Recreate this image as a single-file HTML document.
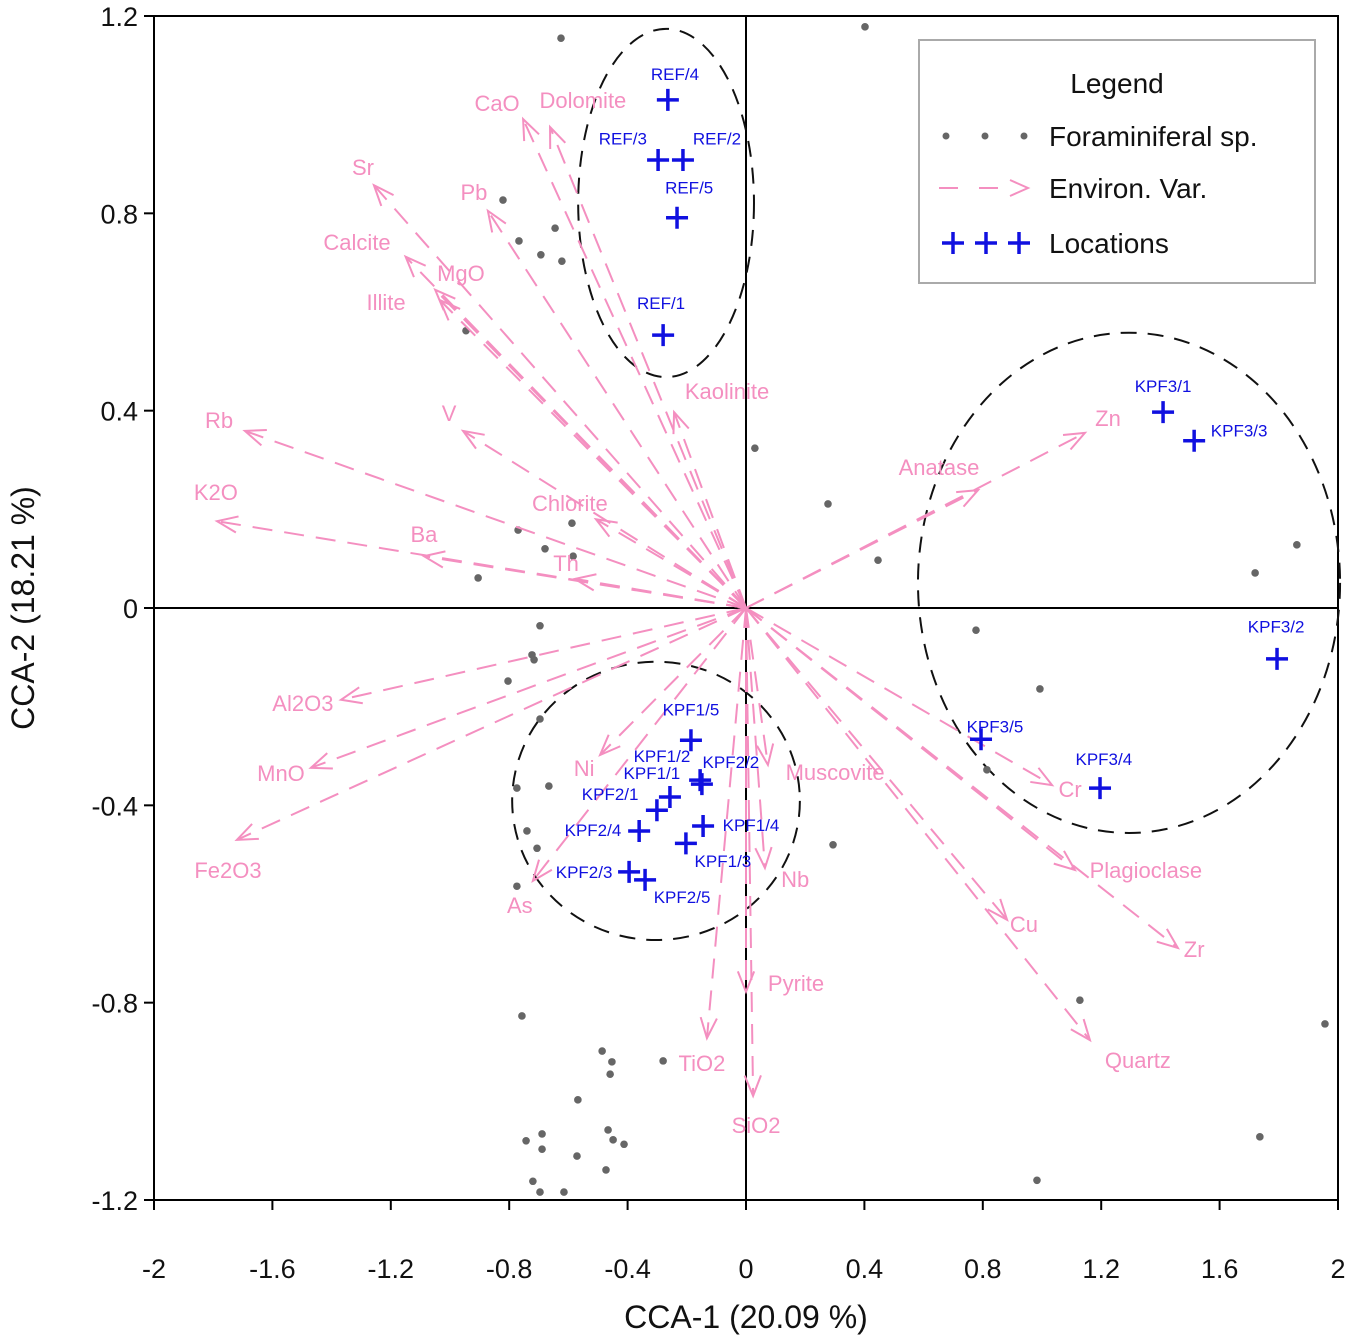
<!DOCTYPE html>
<html><head><meta charset="utf-8"><style>
html,body{margin:0;padding:0;background:#fff;}
svg{display:block;font-family:"Liberation Sans",sans-serif;}
</style></head><body>
<svg id="chart" width="1350" height="1340" viewBox="0 0 1350 1340">
<g id="grid-layer"></g>
<g id="ellipse-layer"></g>
<g id="point-layer"></g>
<g id="arrow-layer"></g>
<g id="loc-layer"></g>
<g id="legend">
<rect x="919" y="40" width="396" height="243" fill="#fff" stroke="#aaa" stroke-width="2"/>
<text x="1117" y="93" font-size="28" text-anchor="middle" fill="#111">Legend</text>
<g>
<circle cx="946" cy="136" r="3.5" fill="#666"/><circle cx="985" cy="136" r="3.5" fill="#666"/><circle cx="1024" cy="136" r="3.5" fill="#666"/>
<text x="1049" y="146" font-size="28" fill="#111">Foraminiferal sp.</text></g>
<g>
<line x1="939" y1="188" x2="958" y2="188" stroke="#f48fc0" stroke-width="2"/><line x1="979" y1="188" x2="998" y2="188" stroke="#f48fc0" stroke-width="2"/>
<polyline points="1010,180 1028,188 1010,196" fill="none" stroke="#f48fc0" stroke-width="2"/>
<text x="1049" y="198" font-size="28" fill="#111">Environ. Var.</text></g>
<g>
<path d="M942 243h22M953 232v22M975 243h22M986 232v22M1008 243h22M1019 232v22" stroke="#1010e0" stroke-width="3.5"/>
<text x="1049" y="253" font-size="28" fill="#111">Locations</text></g>
</g>
</svg>
<script>
const xTicks = [-2,-1.6,-1.2,-0.8,-0.4,0,0.4,0.8,1.2,1.6,2];
const yTicks = [1.2,0.8,0.4,0,-0.4,-0.8,-1.2];
const xTickLabels = ["-2","-1.6","-1.2","-0.8","-0.4","0","0.4","0.8","1.2","1.6","2"];
const yTickLabels = ["1.2","0.8","0.4","0","-0.4","-0.8","-1.2"];

const varNames = ["CaO","Dolomite","Sr","Pb","Calcite","MgO","Illite","Kaolinite","V","Rb","K2O","Ba","Chlorite","Th","Al2O3","MnO","Fe2O3","Ni","As","TiO2","SiO2","Pyrite","Zn","Anatase","Muscovite","Nb","Cr","Plagioclase","Cu","Zr","Quartz"];
const varX = [-0.753,-0.662,-1.257,-0.872,-1.15,-1.05,-1.034,-0.243,-0.956,-1.693,-1.787,-1.088,-0.507,-0.578,-1.368,-1.47,-1.72,-0.493,-0.72,-0.132,0.024,0,1.145,0.784,0.074,0.064,1.034,1.111,0.882,1.459,1.162];
const varY = [0.991,0.975,0.857,0.805,0.712,0.645,0.624,0.397,0.359,0.359,0.176,0.105,0.18,0.059,-0.186,-0.324,-0.47,-0.298,-0.553,-0.872,-0.989,-0.778,0.355,0.239,-0.318,-0.527,-0.359,-0.531,-0.632,-0.689,-0.876];
const varLabelX = [-0.841,-0.551,-1.294,-0.919,-1.314,-0.963,-1.216,-0.064,-1.003,-1.78,-1.791,-1.088,-0.595,-0.608,-1.497,-1.571,-1.75,-0.547,-0.764,-0.149,0.034,0.169,1.223,0.652,0.301,0.166,1.095,1.351,0.939,1.514,1.324];
const varLabelY = [1.024,1.03,0.894,0.843,0.742,0.679,0.62,0.44,0.395,0.381,0.235,0.15,0.213,0.091,-0.193,-0.334,-0.531,-0.324,-0.602,-0.922,-1.048,-0.76,0.385,0.286,-0.332,-0.549,-0.367,-0.531,-0.641,-0.691,-0.916];

const locNames = ["REF/4","REF/3","REF/2","REF/5","REF/1","KPF3/1","KPF3/3","KPF3/2","KPF3/5","KPF3/4","KPF1/5","KPF1/2","KPF2/2","KPF1/1","KPF2/1","KPF2/4","KPF1/4","KPF1/3","KPF2/3","KPF2/5"];
const locX = [-0.264,-0.297,-0.213,-0.233,-0.28,1.409,1.514,1.794,0.794,1.196,-0.186,-0.155,-0.149,-0.257,-0.301,-0.361,-0.145,-0.203,-0.395,-0.341];
const locY = [1.03,0.908,0.908,0.791,0.553,0.397,0.339,-0.103,-0.266,-0.365,-0.268,-0.349,-0.357,-0.383,-0.41,-0.452,-0.442,-0.477,-0.535,-0.551];
const locLabelX = [-0.24,-0.416,-0.098,-0.192,-0.287,1.409,1.666,1.791,0.841,1.209,-0.186,-0.284,-0.051,-0.318,-0.459,-0.517,0.017,-0.078,-0.547,-0.216];
const locLabelY = [1.082,0.952,0.952,0.852,0.618,0.45,0.36,-0.038,-0.24,-0.306,-0.206,-0.3,-0.312,-0.334,-0.377,-0.45,-0.44,-0.513,-0.535,-0.586];

const forX = [-0.625,0.402,-0.821,-0.767,-0.693,-0.645,-0.622,-0.946,0.03,0.277,0.446,1.72,1.861,-0.77,-0.588,-0.679,-0.584,-0.905,-0.696,-0.723,-0.716,-0.804,-0.696,0.777,0.993,0.814,-0.774,-0.666,-0.74,-0.706,-0.774,0.294,-0.757,-0.28,-0.486,-0.453,-0.459,-0.568,-0.743,-0.689,-0.689,-0.571,-0.466,-0.412,-0.449,-0.473,-0.72,-0.696,-0.615,1.128,1.956,1.736,0.983];
const forY = [1.155,1.178,0.827,0.744,0.716,0.77,0.703,0.562,0.324,0.211,0.097,0.071,0.128,0.158,0.172,0.12,0.105,0.061,-0.036,-0.095,-0.105,-0.148,-0.225,-0.045,-0.164,-0.328,-0.365,-0.361,-0.452,-0.487,-0.564,-0.48,-0.827,-0.918,-0.898,-0.92,-0.945,-0.997,-1.08,-1.066,-1.097,-1.111,-1.058,-1.087,-1.078,-1.139,-1.162,-1.184,-1.184,-0.795,-0.843,-1.072,-1.16];

const ellCX = [-0.27,1.294,-0.304];
const ellCY = [0.821,0.051,-0.391];
const ellRX = [0.297,0.713,0.486];
const ellRY = [0.353,0.507,0.282];
const ellNames = ["ref-cluster-ellipse","kpf3-cluster-ellipse","kpf1-kpf2-cluster-ellipse"];

const X0=154,X1=1338,Y0=16,Y1=1200;
function sx(v){return X0+(v+2)/4*(X1-X0);}
function sy(v){return Y1-(v+1.2)/2.4*(Y1-Y0);}
const NS="http://www.w3.org/2000/svg";
function mk(tag,attrs,parent,txt){const e=document.createElementNS(NS,tag);for(const k in attrs)e.setAttribute(k,attrs[k]);if(txt!==undefined)e.textContent=txt;parent.appendChild(e);return e;}
const PINK="#f48fc0",BLUE="#1010e0";

const ax=document.getElementById('grid-layer');
const frame=mk('rect',{x:X0,y:Y0,width:X1-X0,height:Y1-Y0,fill:'none',stroke:'#000','stroke-width':2},ax);


const zx=mk('line',{x1:X0,x2:X1,y1:sy(0),y2:sy(0),stroke:'#000','stroke-width':2},ax);


const zy=mk('line',{x1:sx(0),x2:sx(0),y1:Y0,y2:Y1,stroke:'#000','stroke-width':2},ax);


xTicks.forEach((t,i)=>{
  mk('line',{x1:sx(t),x2:sx(t),y1:Y1,y2:Y1+10,stroke:'#000','stroke-width':2},ax);
  const l=mk('text',{x:sx(t),y:1278,'font-size':27,'text-anchor':'middle',fill:'#111'},ax,xTickLabels[i]);
  
  
});
yTicks.forEach((t,i)=>{
  mk('line',{x1:X0-10,x2:X0,y1:sy(t),y2:sy(t),stroke:'#000','stroke-width':2},ax);
  const l=mk('text',{x:138,y:sy(t)+10,'font-size':27,'text-anchor':'end',fill:'#111'},ax,yTickLabels[i]);
  
  
});
const xt=mk('text',{x:746,y:1328,'font-size':32,'text-anchor':'middle',fill:'#111'},ax,'CCA-1 (20.09 %)');


const yt=mk('text',{x:0,y:0,'font-size':32,'text-anchor':'middle',fill:'#111',transform:'translate(34,608) rotate(-90)'},ax,'CCA-2 (18.21 %)');



const el=document.getElementById('ellipse-layer');
ellCX.forEach((c,i)=>{
  const e=mk('ellipse',{cx:sx(c),cy:sy(ellCY[i]),rx:sx(ellRX[i])-sx(0),ry:sy(0)-sy(ellRY[i]),fill:'none',stroke:'#111','stroke-width':2,'stroke-dasharray':'16 11'},el);
  
  
});

const pl=document.getElementById('point-layer');
forX.forEach((x,i)=>{
  const c=mk('circle',{cx:sx(x),cy:sy(forY[i]),r:3.8,fill:'#666'},pl);
  
  
});

const al=document.getElementById('arrow-layer');
varNames.forEach((n,i)=>{
  const g=mk('g',{},al);
  
  
  const x0=sx(0),y0=sy(0),x1=sx(varX[i]),y1=sy(varY[i]);
  mk('line',{x1:x0,y1:y0,x2:x1,y2:y1,stroke:PINK,'stroke-width':2,'stroke-dasharray':'20 12'},g);
  const a=Math.atan2(y1-y0,x1-x0),h=22,s=0.38;
  const p1=[x1-h*Math.cos(a-s),y1-h*Math.sin(a-s)],p2=[x1-h*Math.cos(a+s),y1-h*Math.sin(a+s)];
  mk('polyline',{points:`${p1} ${x1},${y1} ${p2}`,fill:'none',stroke:PINK,'stroke-width':2},g);
  const t=mk('text',{x:sx(varLabelX[i]),y:sy(varLabelY[i])+8,'font-size':22,'text-anchor':'middle',fill:PINK},g,n);
  
  
});

const ll=document.getElementById('loc-layer');
locNames.forEach((n,i)=>{
  const g=mk('g',{},ll);
  
  
  const x=sx(locX[i]),y=sy(locY[i]);
  mk('path',{d:`M${x-11} ${y}h22M${x} ${y-11}v22`,stroke:BLUE,'stroke-width':3.5},g);
  const t=mk('text',{x:sx(locLabelX[i]),y:sy(locLabelY[i])+6,'font-size':17,'text-anchor':'middle',fill:BLUE},g,n);
  
  
});
</script>
</body></html>
